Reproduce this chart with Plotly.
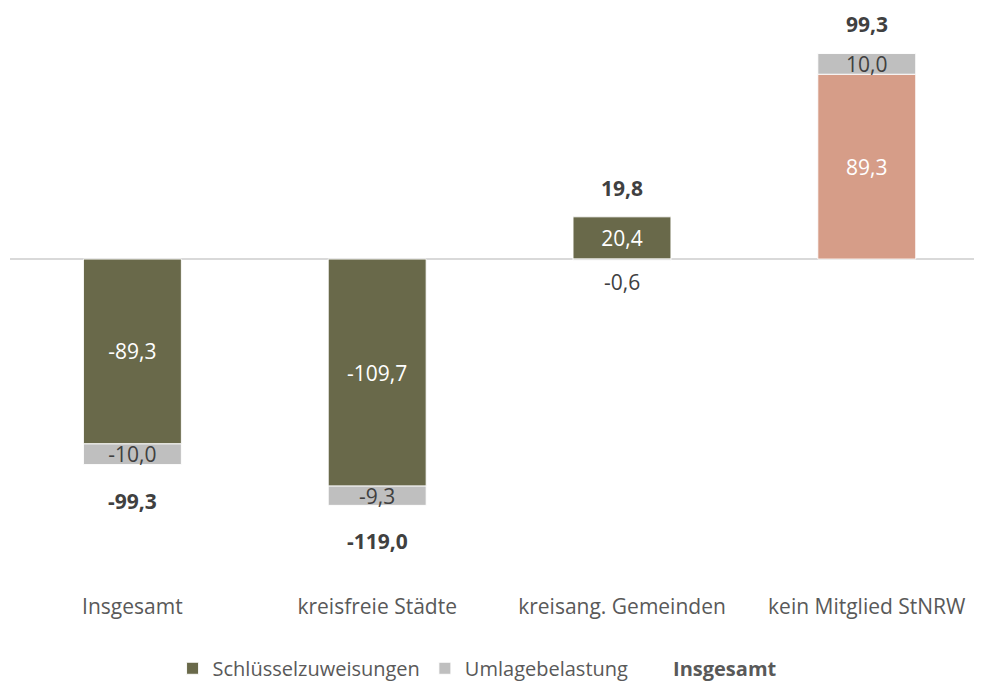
import plotly.graph_objects as go

categories = ["Insgesamt", "kreisfreie Städte", "kreisang. Gemeinden", "kein Mitglied StNRW"]
schluessel = [-89.3, -109.7, 20.4, 89.3]
umlage = [-10.0, -9.3, -0.6, 10.0]
insgesamt = [-99.3, -119.0, 19.8, 99.3]

def de(v):
    return f"{v:.1f}".replace(".", ",")

FONT = "Open Sans"
olive = "#69694a"
salmon = "#d69d88"
grey = "#bfbfbf"
dark = "#404040"
mid = "#595959"
LBL = 21

# small segments get their label outside the bar (drawn as annotation below)
umlage_text = [de(v) if abs(v) >= 2 else "" for v in umlage]

fig = go.Figure()
fig.add_trace(go.Bar(
    x=categories, y=schluessel, name="Schlüsselzuweisungen",
    marker=dict(color=[olive, olive, olive, salmon], line=dict(color="rgba(255,255,255,0.9)", width=1)),
    text=[de(v) for v in schluessel], textposition="inside", insidetextanchor="middle",
    textfont=dict(color="white", size=LBL, family=FONT), width=0.4, hoverinfo="skip",
))
fig.add_trace(go.Bar(
    x=categories, y=umlage, name="Umlagebelastung",
    marker=dict(color=grey, line=dict(color="rgba(255,255,255,0.9)", width=1)),
    text=umlage_text, textposition="inside", insidetextanchor="middle",
    textfont=dict(color=dark, size=LBL, family=FONT), width=0.4, hoverinfo="skip",
))
fig.add_trace(go.Scatter(
    x=[None], y=[None], mode="markers", name="<b>Insgesamt</b>",
    marker=dict(color="rgba(0,0,0,0)", size=1),
))

for c, v in zip(categories, umlage):
    if abs(v) < 2:
        fig.add_annotation(x=c, y=v, text=de(v), showarrow=False,
                           yshift=-22 if v < 0 else 22,
                           font=dict(size=LBL, color=dark, family=FONT))

for c, t in zip(categories, insgesamt):
    fig.add_annotation(x=c, y=t, text=f"<b>{de(t)}</b>", showarrow=False,
                       yshift=30 if t > 0 else -36,
                       font=dict(size=LBL, color=dark, family=FONT))

fig.update_layout(
    barmode="relative",
    width=966, height=681,
    margin=dict(l=2, r=0, t=0, b=99),
    paper_bgcolor="white", plot_bgcolor="white",
    font=dict(family=FONT, size=LBL, color=dark),
    uniformtext=dict(mode="show", minsize=LBL),
    xaxis=dict(range=[-0.5, 3.438], showgrid=False, showline=False, ticks="",
               tickfont=dict(size=21, color=mid), ticklabelstandoff=2),
    yaxis=dict(range=[-159.9, 121.3], showgrid=False, showticklabels=False,
               zeroline=True, zerolinecolor="#d9d9d9", zerolinewidth=2),
    legend=dict(orientation="h", x=0.4845, xanchor="center", y=-0.168, yanchor="bottom",
                font=dict(size=20, color=mid), itemwidth=30, traceorder="normal"),
    showlegend=True,
)

fig.write_html("out.html")
